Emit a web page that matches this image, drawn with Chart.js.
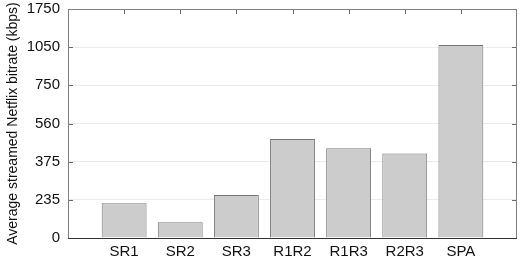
<!DOCTYPE html>
<html><head><meta charset="utf-8">
<script src="https://cdn.jsdelivr.net/npm/chart.js@4/dist/chart.umd.min.js"></script>
<style>html,body{margin:0;padding:0;background:#fff}#wrap{width:523px;height:262px}</style>
</head><body><div id="wrap"><canvas id="c"></canvas></div>
<script>
const categories = ['SR1','SR2','SR3','R1R2','R1R3','R2R3','SPA'];
const bitrates = [214, 97, 253, 485, 440, 414, 1092];
const yTickLabels = [0, 235, 375, 560, 750, 1050, 1750];

// map a kbps value onto the evenly spaced tick index (piecewise linear axis)
function toIndex(v){
  for(let i=0;i<yTickLabels.length-1;i++){
    const a=yTickLabels[i], b=yTickLabels[i+1];
    if(v<=b) return i+(v-a)/(b-a);
  }
  return yTickLabels.length-1;
}
const points = categories.map((c,i)=>({x:i+1, y:toIndex(bitrates[i])}));

const frame = {
  id:'frame',
  afterDatasetsDraw(chart){
    const {ctx, chartArea:a, scales:{x,y}} = chart;
    ctx.save();
    ctx.lineWidth=1;
    ctx.strokeStyle='#6a6a6a';
    ctx.beginPath();
    for(let i=0;i<yTickLabels.length;i++){
      const py=Math.round(y.getPixelForValue(i))+0.5;
      ctx.moveTo(a.left,py); ctx.lineTo(a.left+5,py);
      ctx.moveTo(a.right,py); ctx.lineTo(a.right-5,py);
    }
    for(let i=1;i<=categories.length;i++){
      const px=Math.round(x.getPixelForValue(i))+0.5;
      ctx.moveTo(px,a.top); ctx.lineTo(px,a.top+5);
    }
    ctx.stroke();
    ctx.strokeStyle='#808080';
    ctx.beginPath();
    ctx.moveTo(Math.round(a.left)+0.5,a.bottom);
    ctx.lineTo(Math.round(a.left)+0.5,Math.round(a.top)+0.5);
    ctx.lineTo(Math.round(a.right)-0.5,Math.round(a.top)+0.5);
    ctx.lineTo(Math.round(a.right)-0.5,a.bottom);
    ctx.stroke();
    ctx.strokeStyle='#333';
    ctx.beginPath();
    ctx.moveTo(a.left,Math.round(a.bottom)+0.5);
    ctx.lineTo(a.right,Math.round(a.bottom)+0.5);
    ctx.stroke();
    ctx.restore();
  }
};

new Chart(document.getElementById('c'),{
  type:'bar',
  data:{datasets:[{
    data:points,
    backgroundColor:'#cccccc',
    borderColor:'#777777',
    borderWidth:1,
    barPercentage:0.8,
    categoryPercentage:1.0
  }]},
  options:{
    responsive:true, maintainAspectRatio:false, animation:false,
    layout:{padding:{top:9,right:6,left:5,bottom:0}},
    plugins:{legend:{display:false},tooltip:{enabled:false}},
    scales:{
      x:{type:'linear',min:0,max:8,offset:false,
        afterBuildTicks(s){ s.ticks = categories.map((c,i)=>({value:i+1})); },
        afterFit(s){ s.height=24; s.paddingLeft=0; s.paddingRight=0; },
        grid:{display:false,drawTicks:false,offset:false},
        border:{display:false},
        ticks:{autoSkip:false,maxRotation:0,padding:5,color:'#111',
          font:{family:'Liberation Sans, Arial, sans-serif',size:15},
          callback:(v)=>categories[v-1] ?? ''}
      },
      y:{type:'linear',min:0,max:yTickLabels.length-1,
        afterBuildTicks(s){ s.ticks = yTickLabels.map((t,i)=>({value:i})); },
        afterFit(s){ s.width=63; s.paddingTop=0; s.paddingBottom=0; },
        grid:{color:'#ebebeb',drawTicks:false},
        border:{display:false},
        ticks:{padding:8,color:'#111',
          font:{family:'Liberation Sans, Arial, sans-serif',size:15},
          callback:(v)=>yTickLabels[v]},
        title:{display:true,text:'Average streamed Netflix bitrate (kbps)',color:'#111',
          padding:{top:0,bottom:0},
          font:{family:'Liberation Sans, Arial, sans-serif',size:14}}
      }
    }
  },
  plugins:[frame]
});
</script></body></html>
